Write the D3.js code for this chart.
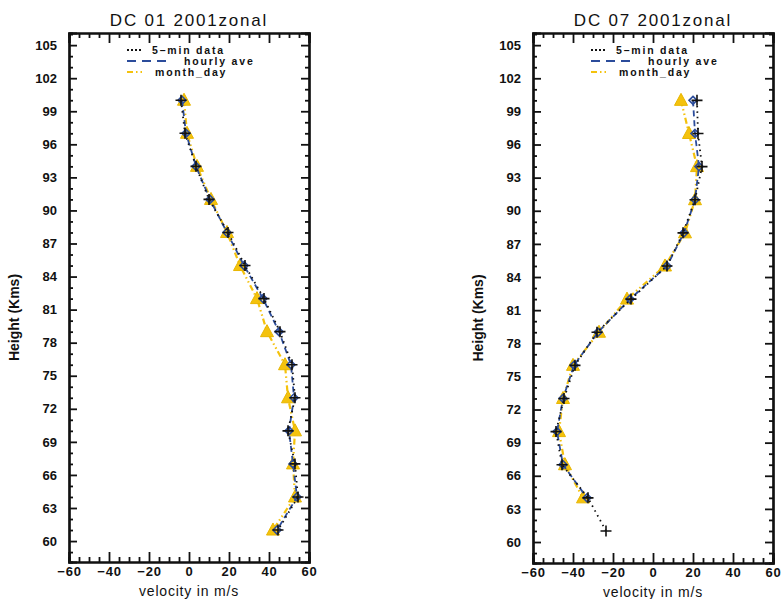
<!DOCTYPE html>
<html>
<head>
<meta charset="utf-8">
<script src="https://cdn.jsdelivr.net/npm/d3@7"></script>
<style>
  body { margin: 0; background: #fff; }
  svg { display: block; }
  text { font-family: "Liberation Sans", Arial, sans-serif; fill: #111; }
</style>
</head>
<body>
<svg id="chart" width="784" height="599"></svg>
<script>
// ---------------- data ----------------
const heights = [100, 97, 94, 91, 88, 85, 82, 79, 76, 73, 70, 67, 64, 61];

const dc01Title = "DC 01 2001zonal";
const dc01FiveMin = [-4, -2, 3.5, 10, 19.5, 28, 37.5, 45.5, 51.5, 53, 49.5, 53, 54.5, 44.5];
const dc01Hourly  = [-3.5, -1.5, 3.5, 10.5, 19, 27.5, 37, 45, 51, 52.5, 50, 52, 54, 44];
const dc01Month   = [-2.5, -1, 4, 11, 19, 25.5, 34, 39, 48, 49.5, 53, 52, 53, 42];

const dc07Title = "DC 07 2001zonal";
const dc07FiveMin = [22, 22.5, 24.5, 21, 15, 7, -11, -28, -39, -44.5, -48.5, -45.5, -32.5, -23.5];
const dc07Hourly  = [20, 21, 23, 21, 15.5, 7, -11.5, -27.5, -39.5, -45, -48, -45, -33];
const dc07Month   = [14, 18, 22, 21, 16, 6, -13, -27, -40, -45, -47, -44, -35];

const yTicks = [105, 102, 99, 96, 93, 90, 87, 84, 81, 78, 75, 72, 69, 66, 63, 60];
const xTicks = [-60, -40, -20, 0, 20, 40, 60];
const legendLabels = ["5\u2013min data", "hourly ave", "month_day"];
const xLabel = "velocity in m/s";
const yLabel = "Height (Kms)";

// ---------------- styles ----------------
const colBlack = "#111";
const colBlue = "#2b4c9b";
const colYellow = "#f4c20d";

const svg = d3.select("#chart");

function panel(cfg) {
  const {left, right, top, bottom, title, five, hourly, month} = cfg;
  const x = d3.scaleLinear().domain([-60, 60]).range([left, right]);
  const y = d3.scaleLinear().domain([58.1, 106.1]).range([bottom, top]);
  const g = svg.append("g");

  // minor ticks
  const xMinor = d3.range(-60, 60.01, 5).filter(v => v % 20 !== 0);
  const yMinor = d3.range(59, 106.01, 1).filter(v => v % 3 !== 0);

  g.append("g").attr("transform", `translate(0,${bottom})`)
    .call(d3.axisBottom(x).tickValues(xMinor).tickSize(-5).tickFormat(""));
  g.append("g").attr("transform", `translate(0,${top})`)
    .call(d3.axisTop(x).tickValues(xMinor).tickSize(-5).tickFormat(""));
  g.append("g").attr("transform", `translate(${left},0)`)
    .call(d3.axisLeft(y).tickValues(yMinor).tickSize(-4).tickFormat(""));
  g.append("g").attr("transform", `translate(${right},0)`)
    .call(d3.axisRight(y).tickValues(yMinor).tickSize(-4).tickFormat(""));

  // major ticks
  const ax = g.append("g").attr("transform", `translate(0,${bottom})`)
    .call(d3.axisBottom(x).tickValues(xTicks).tickSize(-10).tickPadding(5).tickFormat(d => d < 0 ? "\u2212" + Math.abs(d) : d));
  g.append("g").attr("transform", `translate(0,${top})`)
    .call(d3.axisTop(x).tickValues(xTicks).tickSize(-10).tickFormat(""));
  const ay = g.append("g").attr("transform", `translate(${left},0)`)
    .call(d3.axisLeft(y).tickValues(yTicks).tickSize(-8).tickPadding(12));
  g.append("g").attr("transform", `translate(${right},0)`)
    .call(d3.axisRight(y).tickValues(yTicks).tickSize(-8).tickFormat(""));

  g.selectAll(".domain").attr("stroke", colBlack).attr("stroke-width", 2.2);
  g.selectAll(".tick line").attr("stroke", colBlack).attr("stroke-width", 1.8);
  ax.selectAll("text").style("font-size", "13px").style("font-weight", "bold")
    .style("letter-spacing", "0.8px").style("font-family", "Liberation Sans, Arial").attr("fill", colBlack);
  ay.selectAll("text").style("font-size", "13px").style("font-weight", "bold")
    .style("font-family", "Liberation Sans, Arial").attr("fill", colBlack);

  // title & axis labels
  g.append("text").attr("x", (left + right) / 2).attr("y", top - 7)
    .attr("text-anchor", "middle").style("font-size", "17px").style("letter-spacing", "1.8px").text(title);
  g.append("text").attr("x", (left + right) / 2).attr("y", bottom + 34)
    .attr("text-anchor", "middle").style("font-size", "14px").style("letter-spacing", "0.8px").text(xLabel);
  g.append("text").attr("transform", `translate(${left - 50},${(top + bottom) / 2 + 20}) rotate(-90)`)
    .attr("text-anchor", "middle").style("font-size", "14px").style("font-weight", "bold").text(yLabel);

  // legend
  const lx = left + 58, ly = top + 21;
  const leg = [
    {c: colBlack, dash: "2,2", x2: 16, tx: 83, label: legendLabels[0]},
    {c: colBlue, dash: "9,6", x2: 44, tx: 115, label: legendLabels[1]},
    {c: colYellow, dash: "6,3,1.5,3,1.5,3", x2: 18, tx: 86, label: legendLabels[2]}
  ];
  leg.forEach((d, i) => {
    const yy = ly + i * 11;
    g.append("line").attr("x1", lx).attr("x2", lx + d.x2).attr("y1", yy - 4).attr("y2", yy - 4)
      .attr("stroke", d.c).attr("stroke-width", 2).attr("stroke-dasharray", d.dash);
    g.append("text").attr("x", left + d.tx).attr("y", yy)
      .style("font-size", "10.5px").style("letter-spacing", "1.8px").style("font-weight", "bold")
      .attr("fill", d.c).text(d.label);
  });

  const line = d3.line().x(d => x(d[0])).y(d => y(d[1]));
  const mk = (vals) => vals.map((v, i) => [v, heights[i]]);

  const monthPts = mk(month), hourlyPts = mk(hourly), fivePts = mk(five);

  // month_day (yellow)
  g.append("path").attr("d", line(monthPts)).attr("fill", "none")
    .attr("stroke", colYellow).attr("stroke-width", 2.2).attr("stroke-dasharray", "6,3,1.5,3,1.5,3");
  g.selectAll(".tri").data(monthPts).enter().append("path")
    .attr("transform", d => `translate(${x(d[0])},${y(d[1])})`)
    .attr("d", "M0,-7L6.5,5L-6.5,5Z").attr("fill", colYellow).attr("stroke", "#e8b600").attr("stroke-width", 1);

  // hourly (blue dashed)
  g.append("path").attr("d", line(hourlyPts)).attr("fill", "none")
    .attr("stroke", colBlue).attr("stroke-width", 1.8).attr("stroke-dasharray", "6,4");
  g.selectAll(".dia").data(hourlyPts).enter().append("path")
    .attr("transform", d => `translate(${x(d[0])},${y(d[1])})`)
    .attr("d", "M0,-4L4,0L0,4L-4,0Z").attr("fill", "none").attr("stroke", colBlue).attr("stroke-width", 1.6);

  // 5-min (black dotted)
  g.append("path").attr("d", line(fivePts)).attr("fill", "none")
    .attr("stroke", colBlack).attr("stroke-width", 1.8).attr("stroke-dasharray", "1.5,4");
  g.selectAll(".plus").data(fivePts).enter().append("path")
    .attr("transform", d => `translate(${x(d[0])},${y(d[1])})`)
    .attr("d", "M-5.5,0H5.5M0,-5.5V5.5").attr("stroke", colBlack).attr("stroke-width", 1.6);
}

panel({left: 69, right: 309, top: 33, bottom: 562, title: dc01Title,
       five: dc01FiveMin, hourly: dc01Hourly, month: dc01Month});
panel({left: 533, right: 773, top: 33, bottom: 563, title: dc07Title,
       five: dc07FiveMin, hourly: dc07Hourly, month: dc07Month});
</script>
</body>
</html>
